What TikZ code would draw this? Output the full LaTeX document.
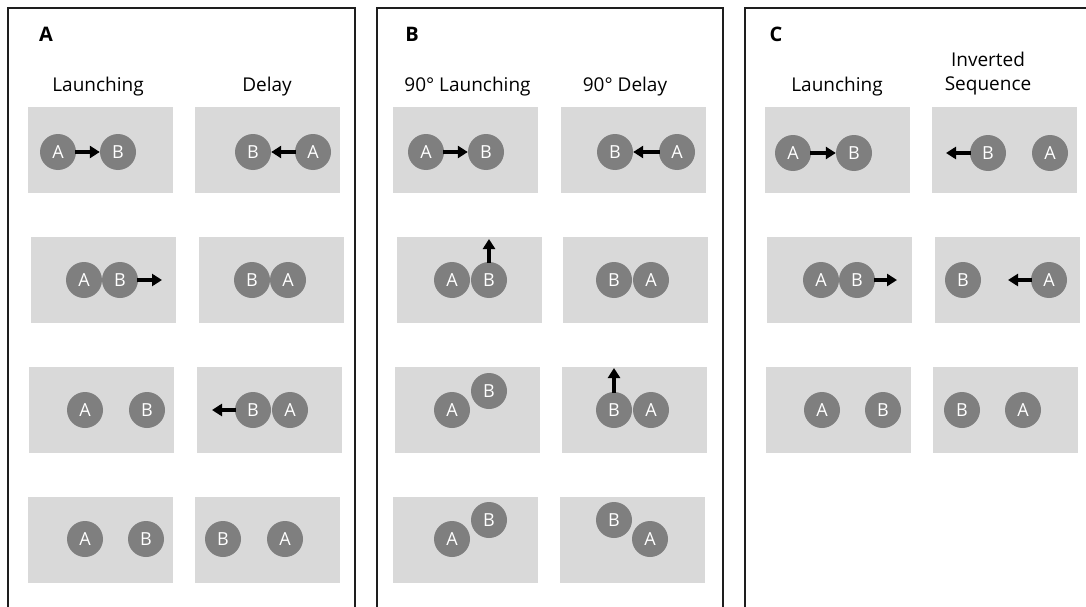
\documentclass[tikz,border=0pt]{standalone}
\usepackage{fontspec}
\setmainfont{Open Sans}
\usetikzlibrary{arrows.meta}

\definecolor{griscaja}{HTML}{D9D9D9}
\definecolor{grisbola}{HTML}{7F7F7F}
\definecolor{marco}{HTML}{1E1E1E}

\begin{document}
\begin{tikzpicture}[x=1pt, y=-1pt,
  caja/.style={rectangle, fill=griscaja, minimum width=145pt, minimum height=86pt, inner sep=0pt},
  bola/.style={circle, fill=grisbola, minimum size=36pt, inner sep=0pt, text=white, font=\fontsize{18}{18}\selectfont},
  flecha/.style={-{Triangle[length=10pt, width=12pt]}, line width=3.6pt, black, shorten <=-1pt},
  titulo/.style={font=\fontsize{19}{24}\selectfont, align=center},
  letra/.style={font=\fontsize{20}{20}\selectfont\bfseries}]

 \useasboundingbox (0,0) rectangle (1086,607);

 % --- MARCOS (sin borde inferior) ---
 \draw[marco, line width=2pt] (8,610) -- (8,8) -- (355,8) -- (355,610);
 \draw[marco, line width=2pt] (377,610) -- (377,8) -- (723,8) -- (723,610);
 \draw[marco, line width=2pt] (745,610) -- (745,8) -- (1090,8);

 % --- PANEL A ---
 \node[letra] (letA) at (46,34) {A};
 \node[titulo] (tA1) at (98,87) {Launching};
 \node[titulo] (tA2) at (267,87) {Delay};

 \node[caja] (a11) at (100.5,150) {};
 \node[caja] (a12) at (267.5,150) {};
 \node[caja] (a21) at (103,280) {};
 \node[caja] (a22) at (271,280) {};
 \node[caja] (a31) at (101,410) {};
 \node[caja] (a32) at (269,410) {};
 \node[caja] (a41) at (100,540) {};
 \node[caja] (a42) at (267,540) {};

 \node[bola] (a11A) at (58,152) {A};
 \node[bola] (a11B) at (118,152) {B};
 \draw[flecha] (a11A) -- (a11B);
 \node[bola] (a12B) at (253,152) {B};
 \node[bola] (a12A) at (313,152) {A};
 \draw[flecha] (a12A) -- (a12B);

 \node[bola] (a21A) at (84,280) {A};
 \node[bola] (a21B) at (120,280) {B};
 \coordinate (a21F) at (162,280);
 \draw[flecha] (a21B) -- (a21F);
 \node[bola] (a22B) at (252,280) {B};
 \node[bola] (a22A) at (288,280) {A};

 \node[bola] (a31A) at (85,410) {A};
 \node[bola] (a31B) at (147,410) {B};
 \node[bola] (a32B) at (253,410) {B};
 \node[bola] (a32A) at (290,410) {A};
 \coordinate (a32F) at (212,410);
 \draw[flecha] (a32B) -- (a32F);

 \node[bola] (a41A) at (85,539) {A};
 \node[bola] (a41B) at (146,539) {B};
 \node[bola] (a42B) at (223,539) {B};
 \node[bola] (a42A) at (285,539) {A};

 % --- PANEL B ---
 \node[letra] (letB) at (412,34) {B};
 \node[titulo] (tB1) at (467.5,87) {90° Launching};
 \node[titulo] (tB2) at (625,87) {90° Delay};

 \node[caja] (b11) at (465.5,150) {};
 \node[caja] (b12) at (633,150) {};
 \node[caja] (b21) at (469,280) {};
 \node[caja] (b22) at (635,280) {};
 \node[caja] (b31) at (467,410) {};
 \node[caja] (b32) at (634,410) {};
 \node[caja] (b41) at (465,540) {};
 \node[caja] (b42) at (632.5,540) {};

 \node[bola] (b11A) at (426,152) {A};
 \node[bola] (b11B) at (486,152) {B};
 \draw[flecha] (b11A) -- (b11B);
 \node[bola] (b12B) at (615,152) {B};
 \node[bola] (b12A) at (677,152) {A};
 \draw[flecha] (b12A) -- (b12B);

 \node[bola] (b21A) at (452,280) {A};
 \node[bola] (b21B) at (489,280) {B};
 \coordinate (b21F) at (489,239);
 \draw[flecha, shorten <=0pt] (b21B.center) ++(0,-17) coordinate (b21S) (b21S) -- (b21F);
 \node[bola] (b22B) at (614,280) {B};
 \node[bola] (b22A) at (651,280) {A};

 \node[bola] (b31A) at (452,410) {A};
 \node[bola] (b31B) at (489,391) {B};
 \node[bola] (b32B) at (614,410) {B};
 \node[bola] (b32A) at (651,410) {A};
 \coordinate (b32F) at (614,368);
 \draw[flecha, shorten <=0pt] (b32B.center) ++(0,-17) coordinate (b32S) (b32S) -- (b32F);

 \node[bola] (b41A) at (452,539) {A};
 \node[bola] (b41B) at (489,520) {B};
 \node[bola] (b42B) at (614,520) {B};
 \node[bola] (b42A) at (650,539) {A};

 % --- PANEL C ---
 \node[letra] (letC) at (776,34) {C};
 \node[titulo] (tC1) at (837,87) {Launching};
 \node[titulo] (tC2) at (988,74) {Inverted\\Sequence};

 \node[caja] (c11) at (837,150) {};
 \node[caja] (c12) at (1004.5,150) {};
 \node[caja] (c21) at (839.5,280) {};
 \node[caja] (c22) at (1007,280) {};
 \node[caja] (c31) at (838,410) {};
 \node[caja] (c32) at (1005,410) {};

 \node[bola] (c11A) at (793,153) {A};
 \node[bola] (c11B) at (854,153) {B};
 \draw[flecha] (c11A) -- (c11B);
 \node[bola] (c12B) at (988,153) {B};
 \node[bola] (c12A) at (1050,153) {A};
 \coordinate (c12F) at (946,153);
 \draw[flecha] (c12B) -- (c12F);

 \node[bola] (c21A) at (821,280) {A};
 \node[bola] (c21B) at (857,280) {B};
 \coordinate (c21F) at (897,280);
 \draw[flecha] (c21B) -- (c21F);
 \node[bola] (c22B) at (963,280) {B};
 \node[bola] (c22A) at (1049,280) {A};
 \coordinate (c22F) at (1008,280);
 \draw[flecha] (c22A) -- (c22F);

 \node[bola] (c31A) at (822,410) {A};
 \node[bola] (c31B) at (883,410) {B};
 \node[bola] (c32B) at (962,410) {B};
 \node[bola] (c32A) at (1023,410) {A};

\end{tikzpicture}
\end{document}
